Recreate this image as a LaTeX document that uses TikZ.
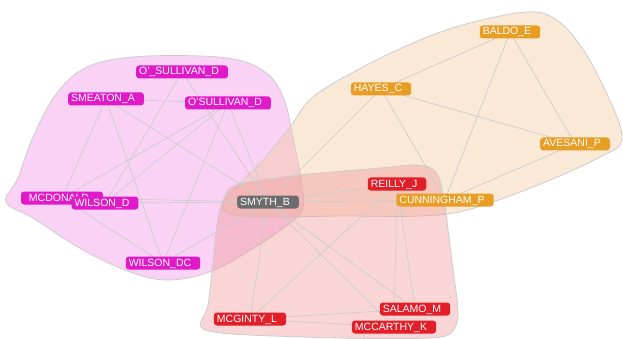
\documentclass[tikz,border=0pt]{standalone}
\usepackage{fontspec}
\setmainfont{Liberation Sans}

\definecolor{pinknode}{RGB}{224,26,200}
\definecolor{orangenode}{RGB}{232,158,36}
\definecolor{rednode}{RGB}{226,30,40}
\definecolor{graynode}{RGB}{108,108,108}
\definecolor{pinkhull}{RGB}{240,143,230}
\definecolor{orangehull}{RGB}{242,200,153}
\definecolor{redhull}{RGB}{240,150,150}
\definecolor{linkgray}{RGB}{204,204,204}

\pgfdeclarelayer{hulls}
\pgfdeclarelayer{links}
\pgfsetlayers{hulls,links,main}

\begin{document}
\begin{tikzpicture}[x=1pt, y=-1pt,
    author/.style={rounded corners=3pt, text=white, inner xsep=3pt, inner ysep=0pt,
      minimum height=13pt, text height=7.6pt, text depth=1.6pt,
      font=\fontsize{10.5}{12}\selectfont, execute at end node=\hspace{6pt}},
    pinkauthor/.style={author, fill=pinknode},
    orangeauthor/.style={author, fill=orangenode},
    redauthor/.style={author, fill=rednode},
    hull/.style={draw=linkgray, line width=0.8pt, fill opacity=0.4},
    link/.style={draw=linkgray, line width=0.7pt}]

  \useasboundingbox (0,0) rectangle (623,339);

  % Draw the authors
  \node[pinkauthor] (osullA) at (182,72) {O'\_SULLIVAN\_D};
  \node[pinkauthor] (smeaton) at (106,99) {SMEATON\_A};
  \node[pinkauthor] (osullB) at (228,103) {O'SULLIVAN\_D};
  \node[pinkauthor, minimum width=82pt] (mcdonald) at (62,198) {MCDONALD};
  \node[pinkauthor] (wilsond) at (105,203) {WILSON\_D};
  \node[pinkauthor] (wilsondc) at (163,263) {WILSON\_DC};
  \node[author, fill=graynode] (smyth) at (268,202) {SMYTH\_B};
  \node[orangeauthor] (baldo) at (510,32) {BALDO\_E};
  \node[orangeauthor] (hayes) at (381,89) {HAYES\_C};
  \node[orangeauthor] (avesani) at (575,144) {AVESANI\_P};
  \node[redauthor] (reilly) at (397,184) {REILLY\_J};
  \node[orangeauthor] (cunningham) at (445,200) {CUNNINGHAM\_P};
  \node[redauthor] (mcginty) at (250,319) {MCGINTY\_L};
  \node[redauthor] (salamo) at (415,309) {SALAMO\_M};
  \node[redauthor] (mccarthy) at (394,327) {MCCARTHY\_K};

  % Draw the co-author links
  \begin{pgfonlayer}{links}
    \foreach \a/\b in {smeaton/osullB, smeaton/mcdonald, smeaton/wilsondc,
        smeaton/smyth, osullA/wilsond, osullA/smyth, osullB/mcdonald,
        osullB/wilsond, osullB/wilsondc, osullB/smyth, wilsond/smyth,
        mcdonald/smyth, mcdonald/wilsondc, wilsondc/smyth}
      \draw[link] (\a.center) -- (\b.center);
    \foreach \a/\b in {baldo/hayes, baldo/cunningham, baldo/avesani,
        hayes/avesani, hayes/cunningham, hayes/smyth, avesani/cunningham}
      \draw[link] (\a.center) -- (\b.center);
    \foreach \a/\b in {smyth/reilly, smyth/cunningham, smyth/mcginty,
        smyth/salamo, smyth/mccarthy, reilly/mcginty, reilly/mccarthy,
        reilly/salamo, mcginty/salamo, mcginty/mccarthy}
      \draw[link] (\a.center) -- (\b.center);
  \end{pgfonlayer}

  % Draw the group hulls
  \begin{pgfonlayer}{hulls}
    \draw[hull, fill=pinkhull] plot[smooth cycle, tension=0.6] coordinates {
      (6,202) (18,178) (33,137) (57,93) (87,67) (133,57) (200,56) (242,61)
      (270,76) (285,102) (293,138) (301,178) (303,208) (290,223) (257,246)
      (212,271) (170,280) (133,273) (83,250) (33,218)};
    \draw[hull, fill=orangehull] plot[smooth cycle, tension=0.6] coordinates {
      (222,205) (240,183) (263,160) (290,127) (313,97) (363,67) (420,40)
      (470,23) (527,12) (555,19) (580,45) (605,90) (622,138) (600,157)
      (533,187) (467,210) (420,216) (340,216) (270,217) (235,215)};
    \draw[hull, fill=redhull] plot[smooth cycle, tension=0.5] coordinates {
      (222,203) (236,185) (300,175) (380,168) (417,165) (436,172) (444,200)
      (452,262) (458,312) (452,332) (430,338) (340,338) (232,334) (201,327)
      (208,305) (213,262) (217,225)};
  \end{pgfonlayer}
\end{tikzpicture}
\end{document}
